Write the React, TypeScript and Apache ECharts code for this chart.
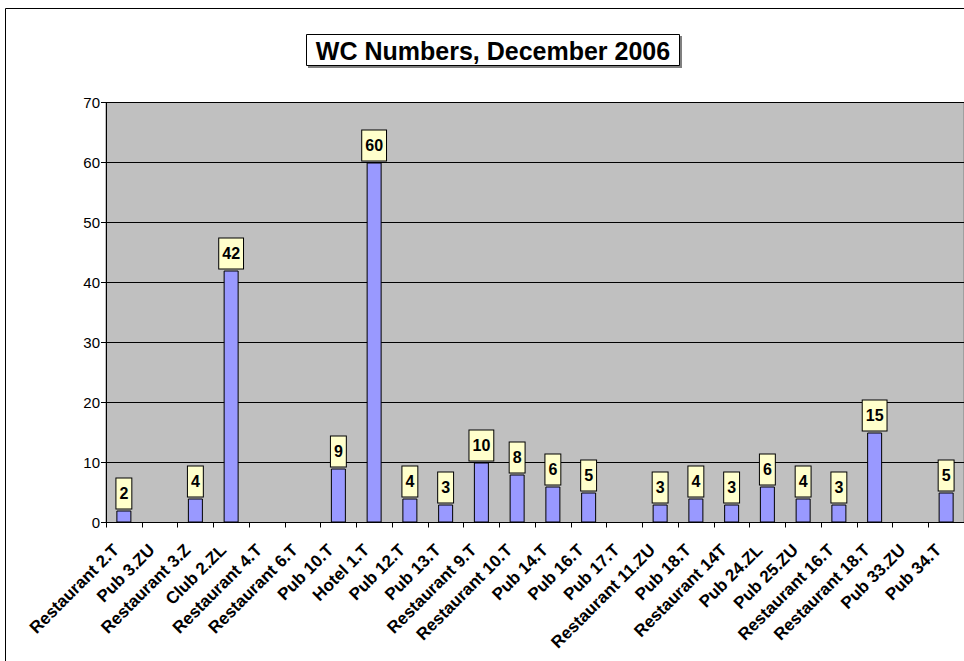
import React, { useEffect, useRef } from "react";
import * as echarts from "echarts";

const categories = [
  "Restaurant 2.T", "Pub 3.ZU", "Restaurant 3.Z", "Club 2.ZL", "Restaurant 4.T",
  "Restaurant 6.T", "Pub 10.T", "Hotel 1.T", "Pub 12.T", "Pub 13.T",
  "Restaurant 9.T", "Restaurant 10.T", "Pub 14.T", "Pub 16.T", "Pub 17.T",
  "Restaurant 11.ZU", "Pub 18.T", "Restaurant 14T", "Pub 24.ZL", "Pub 25.ZU",
  "Restaurant 16.T", "Restaurant 18.T", "Pub 33.ZU", "Pub 34.T",
];
const values: (number | null)[] = [
  2, null, 4, 42, null, null, 9, 60, 4, 3, 10, 8, 6, 5, null, 3, 4, 3, 6, 4, 3, 15, null, 5,
];
const titleText = "WC Numbers, December 2006";
const yMin = 0;
const yMax = 70;
const yStep = 10;

export default function App() {
  const ref = useRef<HTMLDivElement>(null);
  useEffect(() => {
    if (!ref.current) return;
    const chart = echarts.init(ref.current, null, { renderer: "svg" });
    const font = "Arial, 'Liberation Sans', sans-serif";
    chart.setOption({
      animation: false,
      backgroundColor: "#ffffff",
      graphic: [
        {
          type: "rect",
          shape: { x: 5.5, y: 8.5, width: 1100, height: 800 },
          style: { fill: "none", stroke: "#000", lineWidth: 1 },
          z: -1,
          silent: true,
        },
        {
          type: "rect",
          shape: { x: 308, y: 36, width: 374, height: 32 },
          style: { fill: "#808080" },
          z: 10,
        },
        {
          type: "rect",
          shape: { x: 306.5, y: 34.5, width: 373, height: 31 },
          style: { fill: "#ffffff", stroke: "#000", lineWidth: 1 },
          z: 11,
        },
        {
          type: "text",
          x: 493,
          y: 50.5,
          z: 12,
          style: {
            text: titleText,
            fontFamily: font,
            fontSize: 25,
            fontWeight: "bold",
            fill: "#000",
            align: "center",
            verticalAlign: "middle",
          },
        },
      ],
      grid: {
        left: 106,
        top: 102.5,
        width: 861,
        height: 420,
        show: true,
        backgroundColor: "#c0c0c0",
        borderColor: "#808080",
        borderWidth: 1,
      },
      xAxis: {
        type: "category",
        data: categories,
        axisLine: { show: true, lineStyle: { color: "#000", width: 1 } },
        axisTick: { show: true, length: 5, lineStyle: { color: "#000" } },
        axisLabel: {
          interval: 0,
          rotate: 45,
          margin: 17,
          padding: [0, 11, 0, 0],
          color: "#000",
          fontFamily: font,
          fontSize: 17,
          fontWeight: "bold",
        },
      },
      yAxis: {
        type: "value",
        min: yMin,
        max: yMax,
        interval: yStep,
        axisLine: { show: true, lineStyle: { color: "#000", width: 1 } },
        axisTick: { show: true, length: 5, lineStyle: { color: "#000" } },
        axisLabel: {
          color: "#000",
          fontFamily: font,
          fontSize: 15,
          margin: 6,
        },
        splitLine: { show: true, lineStyle: { color: "#000", width: 1 } },
      },
      series: [
        {
          type: "bar",
          data: values,
          barWidth: 15,
          itemStyle: { color: "#9999ff", borderColor: "#000", borderWidth: 1 },
          label: {
            show: true,
            position: "top",
            distance: 2,
            color: "#000",
            fontFamily: font,
            fontSize: 16,
            fontWeight: "bold",
            backgroundColor: "#ffffcc",
            borderColor: "#000",
            borderWidth: 1,
            padding: [7, 3, 7, 3],
            lineHeight: 16,
          },
        },
      ],
    });
    return () => chart.dispose();
  }, []);
  return (
    <div
      ref={ref}
      style={{ position: "fixed", left: 0, top: 0, width: 964, height: 661 }}
    />
  );
}
